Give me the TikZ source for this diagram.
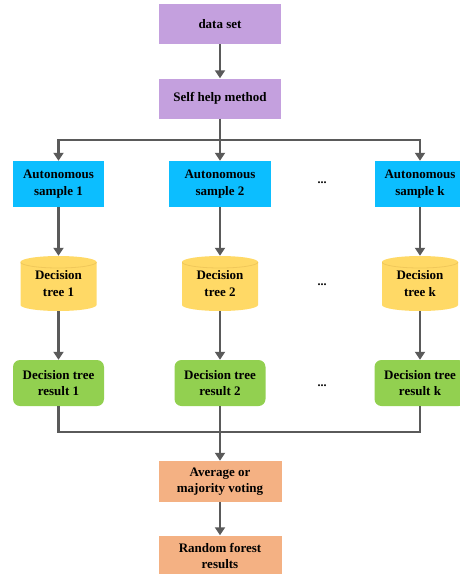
\documentclass[tikz,border=0pt]{standalone}
\usepackage{fontspec}
\setmainfont{Liberation Serif}
\usetikzlibrary{arrows.meta}
\definecolor{cpurple}{RGB}{196,160,222}
\definecolor{cblue}{RGB}{12,190,255}
\definecolor{cyellow}{RGB}{255,217,102}
\definecolor{cyedge}{RGB}{240,200,90}
\definecolor{cgreen}{RGB}{146,208,80}
\definecolor{corange}{RGB}{244,177,131}
\definecolor{cline}{RGB}{90,90,90}
\tikzset{
  txt/.style={font=\fontsize{13}{16.5}\selectfont\bfseries, align=center, text=black, inner sep=0pt},
  pbox/.style={txt, fill=cpurple, minimum width=122pt, minimum height=40pt},
  sbox/.style={txt, fill=cblue, minimum width=91pt, minimum height=46pt},
  rbox/.style={txt, fill=cgreen, rounded corners=7pt, minimum width=91pt, minimum height=46pt},
  obox/.style={txt, fill=corange, minimum width=123pt, minimum height=41pt},
  drum/.style={txt, minimum width=76pt, minimum height=55pt,
    path picture={
      \fill[cyellow] ([yshift=-6pt]path picture bounding box.north west)
        -- ([yshift=6pt]path picture bounding box.south west)
        arc[start angle=180,end angle=360,x radius=38pt,y radius=6pt]
        -- ([yshift=-6pt]path picture bounding box.north east)
        arc[start angle=0,end angle=180,x radius=38pt,y radius=6pt] -- cycle;
      \draw[cyedge, line width=0.8pt] ([yshift=-6pt]path picture bounding box.north west)
        arc[start angle=180,end angle=360,x radius=38pt,y radius=6pt];
    }},
  dots/.style={font=\fontsize{12}{13}\selectfont\bfseries, inner sep=0pt},
  conn/.style={draw=cline, line width=2.2pt},
  arr/.style={conn, -{Triangle[length=8pt,width=10pt]}}
}
\begin{document}
\begin{tikzpicture}[x=1pt,y=-1pt]
\useasboundingbox (0,0) rectangle (459,574);
\node[pbox] (ds) at (220,24) {data set};
\node[pbox] (shm) at (220,98.5) {Self help method};
\node[sbox] (s1) at (58.5,184) {Autonomous\\sample 1};
\node[sbox, minimum width=102pt] (s2) at (220,184) {Autonomous\\sample 2};
\node[sbox] (sk) at (420,184) {Autonomous\\sample k};
\node[drum] (t1) at (58.5,283.5) {Decision\\tree 1};
\node[drum] (t2) at (220,283.5) {Decision\\tree 2};
\node[drum] (tk) at (420,283.5) {Decision\\tree k};
\node[rbox] (r1) at (58.5,383) {Decision tree\\result 1};
\node[rbox] (r2) at (220,383) {Decision tree\\result 2};
\node[rbox] (rk) at (420,383) {Decision tree\\result k};
\node[obox] (avg) at (220,481.5) {Average or\\majority voting};
\node[obox] (rf) at (220,556) {Random forest\\results};
\node[dots] (d1) at (322,183) {...};
\node[dots] (d2) at (322,285) {...};
\node[dots] (d3) at (322,386) {...};
\coordinate (b1) at (220,140);
\coordinate (b2) at (220,432);
\draw[arr] (ds) -- (shm);
\draw[conn] (shm) -- (b1);
\draw[arr] (b1) -| (s1);
\draw[arr] (b1) -- (s2);
\draw[arr] (b1) -| (sk);
\draw[arr] (s1) -- (t1);
\draw[arr] (s2) -- (t2);
\draw[arr] (sk) -- (tk);
\draw[arr] (t1) -- (r1);
\draw[arr] (t2) -- (r2);
\draw[arr] (tk) -- (rk);
\draw[conn] (r1) |- (b2);
\draw[conn] (rk) |- (b2);
\draw[arr] (r2) -- (avg);
\draw[arr] (avg) -- (rf);
\end{tikzpicture}
\end{document}
